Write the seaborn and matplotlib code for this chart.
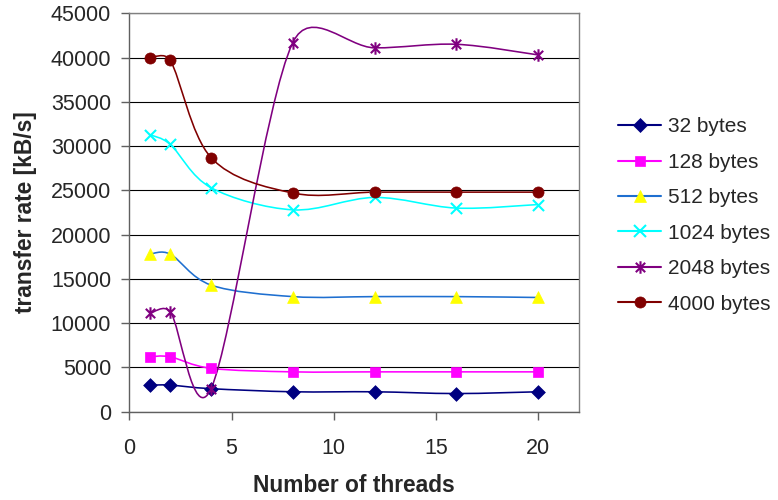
import numpy as np
import matplotlib
matplotlib.use("Agg")
import matplotlib.pyplot as plt
import seaborn as sns
from matplotlib.path import Path
from matplotlib.patches import PathPatch
from matplotlib.lines import Line2D

threads = [1, 2, 4, 8, 12, 16, 20]
labels = ["32 bytes", "128 bytes", "512 bytes", "1024 bytes", "2048 bytes", "4000 bytes"]
v32 = [3000, 3000, 2600, 2250, 2250, 2050, 2250]
v128 = [6200, 6200, 4900, 4500, 4500, 4500, 4500]
v512 = [17800, 17800, 14300, 13000, 13000, 13000, 12900]
v1024 = [31300, 30200, 25300, 22800, 24200, 23000, 23400]
v2048 = [11100, 11300, 2600, 41700, 41100, 41500, 40300]
v4000 = [40000, 39700, 28700, 24700, 24800, 24800, 24800]
series = [v32, v128, v512, v1024, v2048, v4000]

line_colors = ["#000080", "#FF00FF", "#1E6FD0", "#00FFFF", "#800080", "#800000"]
marker_face = ["#000080", "#FF00FF", "#FFFF00", "#00FFFF", "#800080", "#800000"]
asterisk = Path([(0, -1), (0, 1), (-0.75, -0.75), (0.75, 0.75), (-0.75, 0.75), (0.75, -0.75)],
                [Path.MOVETO, Path.LINETO, Path.MOVETO, Path.LINETO, Path.MOVETO, Path.LINETO])
markers = ["D", "s", "^", "x", asterisk, "o"]
unfilled_flags = [False, False, False, True, True, False]
msizes = [7, 7.5, 8.5, 8, 9, 8]

sns.set_theme(style="white")
plt.rcParams["font.family"] = ["Liberation Sans", "DejaVu Sans"]

fig = plt.figure(figsize=(7.78, 5.0), dpi=100)
ax = fig.add_axes([0.1662, 0.1766, 0.7442 - 0.1662, 0.9734 - 0.1766])
ax.set_xlim(0, 22)
ax.set_ylim(0, 45000)


def smooth_path(xs, ys):
    # Excel-like smoothing: Bezier control points computed in screen space
    data = np.column_stack([xs, ys]).astype(float)
    pts = ax.transData.transform(data)
    n = len(pts)
    verts = [pts[0]]
    codes = [Path.MOVETO]
    for i in range(n - 1):
        p0 = pts[i]
        p1 = pts[i + 1]
        pm = pts[i - 1] if i > 0 else pts[i]
        pn = pts[i + 2] if i + 2 < n else pts[i + 1]
        seg = np.hypot(*(p1 - p0))
        t1 = p1 - pm
        t2 = pn - p0
        l1 = max(np.hypot(*t1), 1e-9)
        l2 = max(np.hypot(*t2), 1e-9)
        f1 = min(1 / 6.0, 0.5 * seg / l1)
        f2 = min(1 / 6.0, 0.5 * seg / l2)
        c1 = p0 + t1 * f1
        c2 = p1 - t2 * f2
        verts += [c1, c2, p1]
        codes += [Path.CURVE4] * 3
    verts = ax.transData.inverted().transform(np.array(verts))
    return Path(verts, codes)


for vals, lc, mf, mk, ms, uf in zip(series, line_colors, marker_face, markers, msizes, unfilled_flags):
    patch = PathPatch(smooth_path(threads, vals), fill=False, edgecolor=lc, lw=1.15, zorder=2)
    ax.add_patch(patch)
    sns.scatterplot(x=threads, y=vals, marker=mk, s=ms ** 2,
                    color=mf, edgecolor=mf, linewidth=1.5 if uf else 0.5,
                    ax=ax, zorder=3, legend=False)

ax.set_xlim(0, 22)
ax.set_ylim(0, 45000)
ax.set_xticks([0, 5, 10, 15, 20])
ax.set_yticks(np.arange(0, 45001, 5000))
ax.yaxis.grid(True, color="#000000", lw=0.8)
ax.xaxis.grid(False)
ax.set_axisbelow(True)

for s in ["top", "right"]:
    ax.spines[s].set_color("#808080")
    ax.spines[s].set_linewidth(1.0)
for s in ["left", "bottom"]:
    ax.spines[s].set_color("#606060")
    ax.spines[s].set_linewidth(1.0)

ax.tick_params(axis="both", which="major", direction="out", length=6, width=1,
               color="#606060", labelsize=15.5, pad=7, left=True, bottom=True)
ax.tick_params(axis="x", pad=13)
ax.set_xlabel("Number of threads", fontsize=16.4, fontweight="bold", labelpad=11)
ax.set_ylabel("transfer rate [kB/s]", fontsize=16.4, fontweight="bold", labelpad=10)

handles = []
for lab, lc, mf, mk, ms, uf in zip(labels, line_colors, marker_face, markers, msizes, unfilled_flags):
    handles.append(Line2D([0], [0], color=lc, lw=1.5, marker=mk, markersize=ms,
                          markerfacecolor=mf, markeredgecolor=mf,
                          markeredgewidth=1.5 if uf else 0.5, label=lab))
leg = fig.legend(handles=handles, loc="center left", bbox_to_anchor=(0.784, 0.569),
                 frameon=False, fontsize=15, handlelength=2.07, handletextpad=0.3,
                 labelspacing=0.79, borderaxespad=0)

fig.savefig("out.png", dpi=100)
